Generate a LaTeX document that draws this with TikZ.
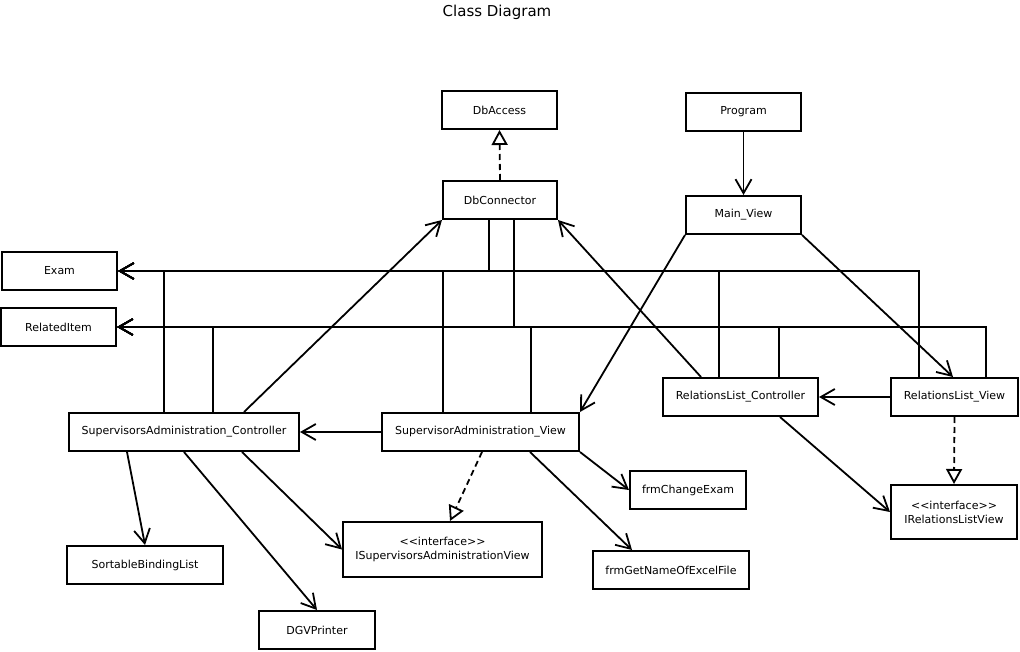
\documentclass[tikz,border=0pt]{standalone}
\usepackage{fontspec}
\setmainfont{DejaVu Sans}
\usetikzlibrary{arrows.meta}
\begin{document}
\begin{tikzpicture}[x=1pt,y=-1pt,
  box/.style={draw,line width=2pt,minimum height=38pt,inner sep=0pt,align=center,font=\fontsize{11}{14}\selectfont},
  assoc/.style={line width=1.8pt,-{Straight Barb[length=14pt,width=16pt]}},
  real/.style={line width=1.8pt,dash pattern=on 6pt off 4pt,-{Triangle[open,length=15pt,width=16pt]}},
  ttl/.style={font=\fontsize{15}{18}\selectfont}]
\useasboundingbox (0,0) rectangle (1020,652);
\node[ttl] (title) at (497,12) {Class Diagram};
\node[box,minimum width=115pt] (dbaccess) at (499.5,110) {DbAccess};
\node[box,minimum width=115pt] (program) at (743.5,112) {Program};
\node[box,minimum width=114pt] (dbconn) at (500,200) {DbConnector};
\node[box,minimum width=115pt] (mainview) at (743.5,215) {Main\_View};
\node[box,minimum width=115pt] (exam) at (59.5,271) {Exam};
\node[box,minimum width=115pt] (related) at (58.5,327) {RelatedItem};
\node[box,minimum width=230pt] (sac) at (184,432) {SupervisorsAdministration\_Controller};
\node[box,minimum width=197pt] (sav) at (480.5,432) {SupervisorAdministration\_View};
\node[box,minimum width=155pt] (rlc) at (740.5,397) {RelationsList\_Controller};
\node[box,minimum width=127pt] (rlv) at (954.5,397) {RelationsList\_View};
\node[box,minimum width=116pt] (fce) at (688,490) {frmChangeExam};
\node[box,minimum width=199pt,minimum height=55pt] (isav) at (442.5,549.5) {{<}{<}interface{>}{>}\\ISupervisorsAdministrationView};
\node[box,minimum width=156pt] (fgn) at (671,570) {frmGetNameOfExcelFile};
\node[box,minimum width=126pt,minimum height=54pt] (irlv) at (954,512) {{<}{<}interface{>}{>}\\IRelationsListView};
\node[box,minimum width=156pt] (sbl) at (145,565) {SortableBindingList};
\node[box,minimum width=116pt] (dgv) at (317,630) {DGVPrinter};

% realizations
\draw[real] (dbconn.north) -- (dbaccess.south);
\draw[real] (rlv.south) -- (irlv.north);
\draw[real] (482,0 |- sav.south) -- (450,0 |- isav.north);

% associations to Exam
\draw[assoc] (164,0 |- sac.north) |- (exam.east);
\draw[assoc] (489,0 |- dbconn.south) |- (exam.east);
\draw[assoc] (443,0 |- sav.north) |- (exam.east);
\draw[assoc] (719,0 |- rlc.north) |- (exam.east);
\draw[assoc] (919,0 |- rlv.north) |- (exam.east);
% associations to RelatedItem
\draw[assoc] (213,0 |- sac.north) |- (related.east);
\draw[assoc] (514,0 |- dbconn.south) |- (related.east);
\draw[assoc] (531,0 |- sav.north) |- (related.east);
\draw[assoc] (779,0 |- rlc.north) |- (related.east);
\draw[assoc] (986,0 |- rlv.north) |- (related.east);

% other associations
\draw[assoc] (program.south) -- (mainview.north);
\draw[assoc] (244,0 |- sac.north) -- (dbconn.south west);
\draw[assoc] (701,0 |- rlc.north) -- (dbconn.south east);
\draw[assoc] (mainview.south west) -- (sav.north east);
\draw[assoc] (mainview.south east) -- (953,0 |- rlv.north);
\draw[assoc] (rlv.west) -- (rlc.east);
\draw[assoc] (sav.west) -- (sac.east);
\draw[assoc] (780,0 |- rlc.south) -- (irlv.west);
\draw[assoc] (sav.south east) -- (fce.west);
\draw[assoc] (530,0 |- sav.south) -- (632,0 |- fgn.north);
\draw[assoc] (127,0 |- sac.south) -- (sbl.north);
\draw[assoc] (184,0 |- sac.south) -- (dgv.north);
\draw[assoc] (242,0 |- sac.south) -- (isav.west);
\end{tikzpicture}
\end{document}
